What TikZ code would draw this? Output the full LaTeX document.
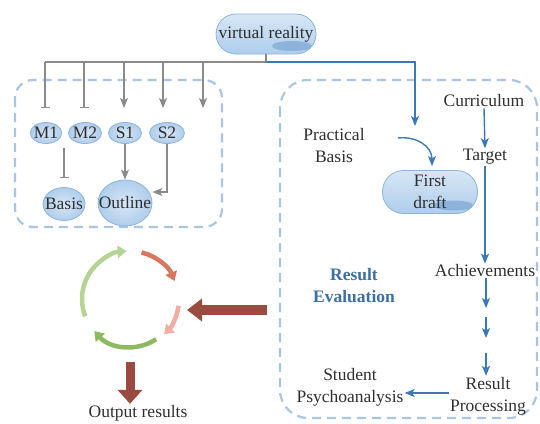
\documentclass[tikz,border=0pt]{standalone}
\usepackage{fontspec}
\setmainfont{Liberation Serif}
\usetikzlibrary{arrows.meta,shapes.geometric,calc}

\definecolor{ink}{HTML}{2E2E2E}
\definecolor{wire}{HTML}{8A8A8A}
\definecolor{flow}{HTML}{3B78B5}
\definecolor{frame}{HTML}{A9C5E2}
\definecolor{blobedge}{HTML}{8DB3DA}
\definecolor{blobfill}{HTML}{AFCDEB}
\definecolor{blobhi}{HTML}{D7E7F6}
\definecolor{blobdark}{HTML}{7FA9D6}
\definecolor{evalblue}{HTML}{3C6FA6}
\definecolor{cycA}{HTML}{B5D493}
\definecolor{cycB}{HTML}{D8765E}
\definecolor{cycC}{HTML}{F2ADA1}
\definecolor{cycD}{HTML}{8DBA5E}
\definecolor{bigarrow}{HTML}{9A4B40}

\begin{document}
\begin{tikzpicture}[x=1pt,y=-1pt,
  font=\fontsize{17.5}{22}\selectfont, text=ink,
  lbl/.style={align=center, inner sep=1pt},
  blob/.style={ellipse, draw=blobedge, line width=0.8pt,
    inner color=blobhi, outer color=blobfill, inner sep=0pt},
  pill/.style={rectangle, draw=blobedge, line width=0.8pt,
    top color=blobhi, bottom color=blobfill, align=center,
    path picture={\fill[blobdark, opacity=.75, rotate=12]
      ([xshift=-24pt,yshift=8pt]path picture bounding box.south east)
      ellipse [x radius=20pt, y radius=5pt];}},
  dashframe/.style={draw=frame, line width=2.2pt, dash pattern=on 9pt off 6pt},
  greyline/.style={draw=wire, line width=1.3pt},
  greyarrow/.style={greyline, -{Stealth[length=10pt,width=8pt,inset=2.5pt]}},
  greytee/.style={greyline, -{Bar[width=9pt,line width=1.3pt]}},
  bluearrow/.style={draw=flow, line width=1.4pt, -{Stealth[length=10pt,width=8pt,inset=2.5pt]}},
  cyc/.style={line width=4.5pt, -{Triangle[length=9pt,width=12pt]}},
]
\useasboundingbox (0,0) rectangle (540,423);

% dashed group frames
\draw[dashframe, rounded corners=18pt] (15,80) rectangle (222,227);
\draw[dashframe, rounded corners=28pt] (280,80) rectangle (537,418);

% top node and its fan-out
\node[pill, rounded corners=20pt, minimum width=100pt, minimum height=40pt, inner sep=0pt]
  (vr) at (266,34) {virtual reality};
\coordinate (hub) at (266,62);
\coordinate (fanL) at (45,62);
\coordinate (b1) at (45,108);
\coordinate (b2) at (84,108);
\coordinate (b3) at (124,108);
\coordinate (b4) at (163,108);
\coordinate (b5) at (203,108);
\coordinate (drop) at (415,126);

\draw[greyline] (vr.south -| hub) -- (hub) -- (fanL);
\draw[greytee] (fanL) -- (b1);
\draw[greytee] (b2 |- hub) -- (b2);
\draw[greyarrow] (b3 |- hub) -- (b3);
\draw[greyarrow] (b4 |- hub) -- (b4);
\draw[greyarrow] (b5 |- hub) -- (b5);
\draw[bluearrow] (hub) -| (drop);

% left group
\node[blob, minimum width=31pt, minimum height=21pt, inner xsep=-1pt] (m1) at (46,133) {M1};
\node[blob, minimum width=33pt, minimum height=21pt, inner xsep=-1pt] (m2) at (85,133) {M2};
\node[blob, minimum width=33pt, minimum height=21pt] (s1) at (125,133) {S1};
\node[blob, minimum width=35pt, minimum height=21pt] (s2) at (167,133) {S2};
\node[blob, minimum width=42pt, minimum height=33pt, inner xsep=-7pt] (basis) at (64,204) {Basis};
\node[blob, minimum width=54pt, minimum height=46pt, inner xsep=-12pt] (outline) at (125,203) {Outline};

\coordinate (t1) at (64,148);
\draw[greytee] (t1) -- (64,178);
\draw[greyarrow] (s1.south) -- (outline.north);
\draw[greyarrow] (s2.south) |- (outline.east |- 0,192);

% right group
\node[lbl] (cur) at (484,101) {Curriculum};
\node[lbl] (tgt) at (485,157) {Target};
\node[lbl] (ach) at (485,271) {Achievements};
\node[lbl] (prac) at (334,146) {Practical\\Basis};
\node[pill, rounded corners=21pt, minimum width=95pt, minimum height=43pt, inner sep=0pt]
  (draft) at (430,192) {First\\draft};
\node[lbl, text=evalblue, font=\fontsize{17.5}{22}\selectfont\bfseries] (eval) at (354,286) {Result\\Evaluation};
\node[lbl] (proc) at (488,396) {Result\\Processing};
\node[lbl] (stud) at (350,387) {Student\\Psychoanalysis};

\coordinate (pa) at (398,138);
\coordinate (pb) at (432,166);
\draw[bluearrow] (pa) .. controls (416,136) and (432,146) .. (pb);

\draw[bluearrow] (cur.south) -- (tgt.north);
\draw[bluearrow] (tgt.south) -- (ach.north);
\coordinate (s1a) at (486,308);
\coordinate (s2a) at (486,317);
\coordinate (s2b) at (486,338);
\coordinate (s3a) at (486,353);
\draw[bluearrow] (ach.south -| s1a) -- (s1a);
\draw[bluearrow] (s2a) -- (s2b);
\draw[bluearrow] (s3a) -- (proc.north -| s3a);
\draw[bluearrow] ([yshift=3pt]proc.west) -- ([yshift=3pt]proc.west -| stud.east);

% feedback cycle
\coordinate (cc) at (130,299);
\draw[cyc, cycA] (cc) ++(-201:48) arc[start angle=-201, end angle=-94, radius=48];
\draw[cyc, cycB] (cc) ++(-76:48) arc[start angle=-76, end angle=-22, radius=48];
\draw[cyc, cycC] (cc) ++(8:49) arc[start angle=8, end angle=46, radius=49];
\draw[cyc, cycD] (cc) ++(57:48) arc[start angle=57, end angle=138, radius=48];

\coordinate (inT) at (267,310);
\coordinate (inH) at (187,310);
\draw[bigarrow, line width=10pt, -{Triangle[length=15pt,width=22pt]}] (inT) -- (inH);

\node[lbl] (out) at (138,413) {Output results};
\coordinate (outT) at (130,362);
\draw[bigarrow, line width=9pt, -{Triangle[length=14pt,width=24pt]}] (outT) -- (outT |- out.north);
\end{tikzpicture}
\end{document}
